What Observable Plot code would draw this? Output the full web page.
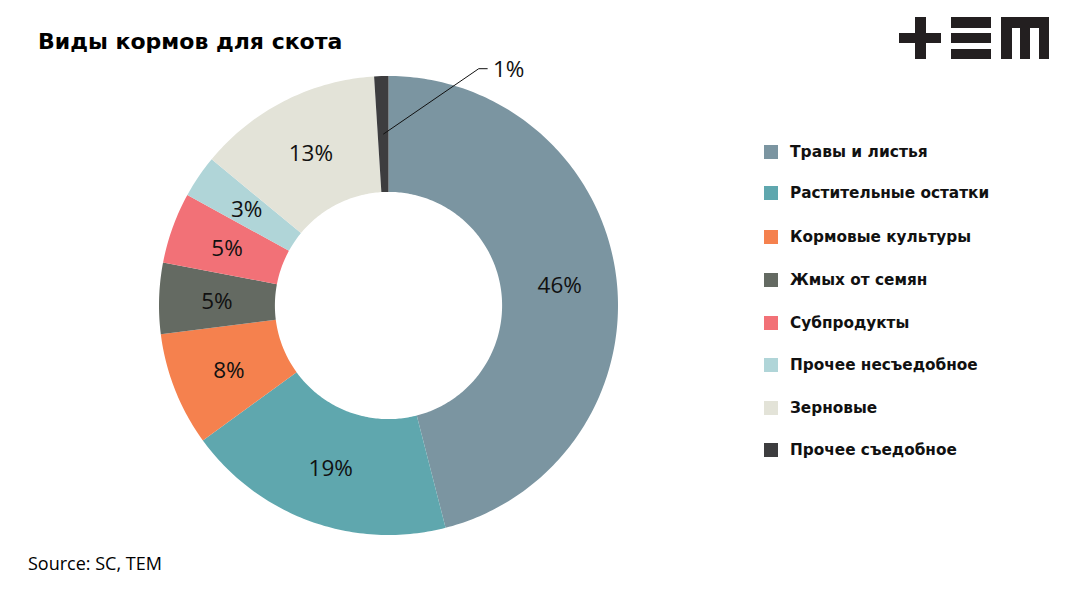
<!DOCTYPE html>
<html>
<head>
<meta charset="utf-8">
<script src="https://cdn.jsdelivr.net/npm/d3@7"></script>
<script src="https://cdn.jsdelivr.net/npm/@observablehq/plot@0.6"></script>
<style>
  html, body { margin: 0; padding: 0; background: #fff; }
  #root { position: relative; width: 1066px; height: 593px; overflow: hidden; }
  #chart { position: absolute; left: 0; top: 0; }
  .title { position: absolute; left: 38px; top: 29px; font-family: "DejaVu Sans", Verdana, sans-serif; font-weight: bold; font-size: 22px; line-height: 26px; color: #000; white-space: nowrap; }
  .source { position: absolute; left: 28px; top: 551px; font-family: "Open Sans", sans-serif; font-size: 18px; line-height: 24px; color: #000; white-space: nowrap; }
  .legend { position: absolute; left: 764px; top: 0; }
  .item { position: absolute; left: 0; height: 20px; white-space: nowrap; }
  .sw { position: absolute; left: 0; top: 3px; width: 14px; height: 14px; }
  .lbl { position: absolute; left: 26px; top: 0; font-family: "DejaVu Sans", Verdana, sans-serif; font-weight: bold; font-size: 15.3px; line-height: 20px; color: #111; }
  .logo { position: absolute; left: 0; top: 0; }
</style>
</head>
<body>
<div id="root">
  <div id="chart"></div>
  <div class="title">Виды кормов для скота</div>
  <div class="source">Source: SC, TEM</div>
  <div class="legend" id="legend"></div>
  <svg class="logo" width="1066" height="80" viewBox="0 0 1066 80">
    <g fill="#231f20">
      <rect x="899" y="33" width="42" height="10"/>
      <rect x="915" y="17" width="11" height="42"/>
      <rect x="951" y="17" width="40" height="11"/>
      <rect x="951" y="33" width="40" height="10"/>
      <rect x="951" y="49" width="40" height="10"/>
      <rect x="1001" y="17" width="48" height="11"/>
      <rect x="1001" y="17" width="11" height="42"/>
      <rect x="1020" y="17" width="10" height="42"/>
      <rect x="1039" y="17" width="10" height="42"/>
    </g>
  </svg>
</div>
<script>
// ---- data ----
const categories = ["Травы и листья", "Растительные остатки", "Кормовые культуры", "Жмых от семян", "Субпродукты", "Прочее несъедобное", "Зерновые", "Прочее съедобное"];
const values = [46, 19, 8, 5, 5, 3, 13, 1];
const labels = ["46%", "19%", "8%", "5%", "5%", "3%", "13%", "1%"];
const colors = ["#7b95a1", "#5fa7ae", "#f5814e", "#646a62", "#f27177", "#b0d5d8", "#e3e3d8", "#3d3d3f"];

// ---- layout ----
const cx = 388.5, cy = 305.5, R = 229.5;
const inner = 0.495;     // inner radius as fraction of outer
const labelR = 0.75;     // label radius fraction

const pie = d3.pie().sort(null).value(d => d)(values);

const areaRows = [];
pie.forEach((p, i) => {
  const n = Math.max(4, Math.ceil(values[i] * 4));
  for (let k = 0; k <= n; k++) {
    const a = p.startAngle + (p.endAngle - p.startAngle) * k / n;
    areaRows.push({cat: categories[i], x1: Math.sin(a), y1: Math.cos(a), x2: inner * Math.sin(a), y2: inner * Math.cos(a)});
  }
});

const lastIdx = values.length - 1;
const labelRows = pie.map((p, i) => {
  const a = (p.startAngle + p.endAngle) / 2;
  return {text: labels[i], x: labelR * Math.sin(a), y: labelR * Math.cos(a), a};
});
const inside = labelRows.filter((d, i) => i !== lastIdx);
const out = labelRows[lastIdx];
// leader line for the small slice (offsets are layout)
const bend = {x: 0.391, y: 1.034};
const leader = [{x: out.x, y: out.y}, bend, {x: bend.x + 0.037, y: bend.y}];
const outLabel = [{text: out.text, x: bend.x + 0.062, y: bend.y - 0.004}];

const chart = Plot.plot({
  width: 1066,
  height: 593,
  margin: 0,
  x: {domain: [-1, 1], range: [cx - R, cx + R], axis: null},
  y: {domain: [-1, 1], range: [cy + R, cy - R], axis: null},
  color: {type: "ordinal", domain: categories, range: colors},
  style: {background: "transparent"},
  marks: [
    Plot.area(areaRows, {x1: "x1", y1: "y1", x2: "x2", y2: "y2", z: "cat", fill: "cat", curve: "linear"}),
    Plot.text(inside, {x: "x", y: "y", text: "text", fill: "#111", fontSize: 22.5, fontFamily: "Open Sans, sans-serif", dy: 1}),
    Plot.line(leader, {x: "x", y: "y", stroke: "#111", strokeWidth: 1}),
    Plot.text(outLabel, {x: "x", y: "y", text: "text", textAnchor: "start", fill: "#111", fontSize: 22.5, fontFamily: "Open Sans, sans-serif"})
  ]
});
document.getElementById("chart").appendChild(chart);

// ---- legend ----
const legendY = [152, 193, 237, 280, 323, 365, 408, 450];
const legend = document.getElementById("legend");
categories.forEach((c, i) => {
  const it = document.createElement("div");
  it.className = "item";
  it.style.top = (legendY[i] - 10) + "px";
  const sw = document.createElement("div");
  sw.className = "sw";
  sw.style.background = colors[i];
  const lb = document.createElement("div");
  lb.className = "lbl";
  lb.textContent = c;
  if (i === 0) lb.style.fontSize = "15.5px";
  it.appendChild(sw);
  it.appendChild(lb);
  legend.appendChild(it);
});
</script>
</body>
</html>
